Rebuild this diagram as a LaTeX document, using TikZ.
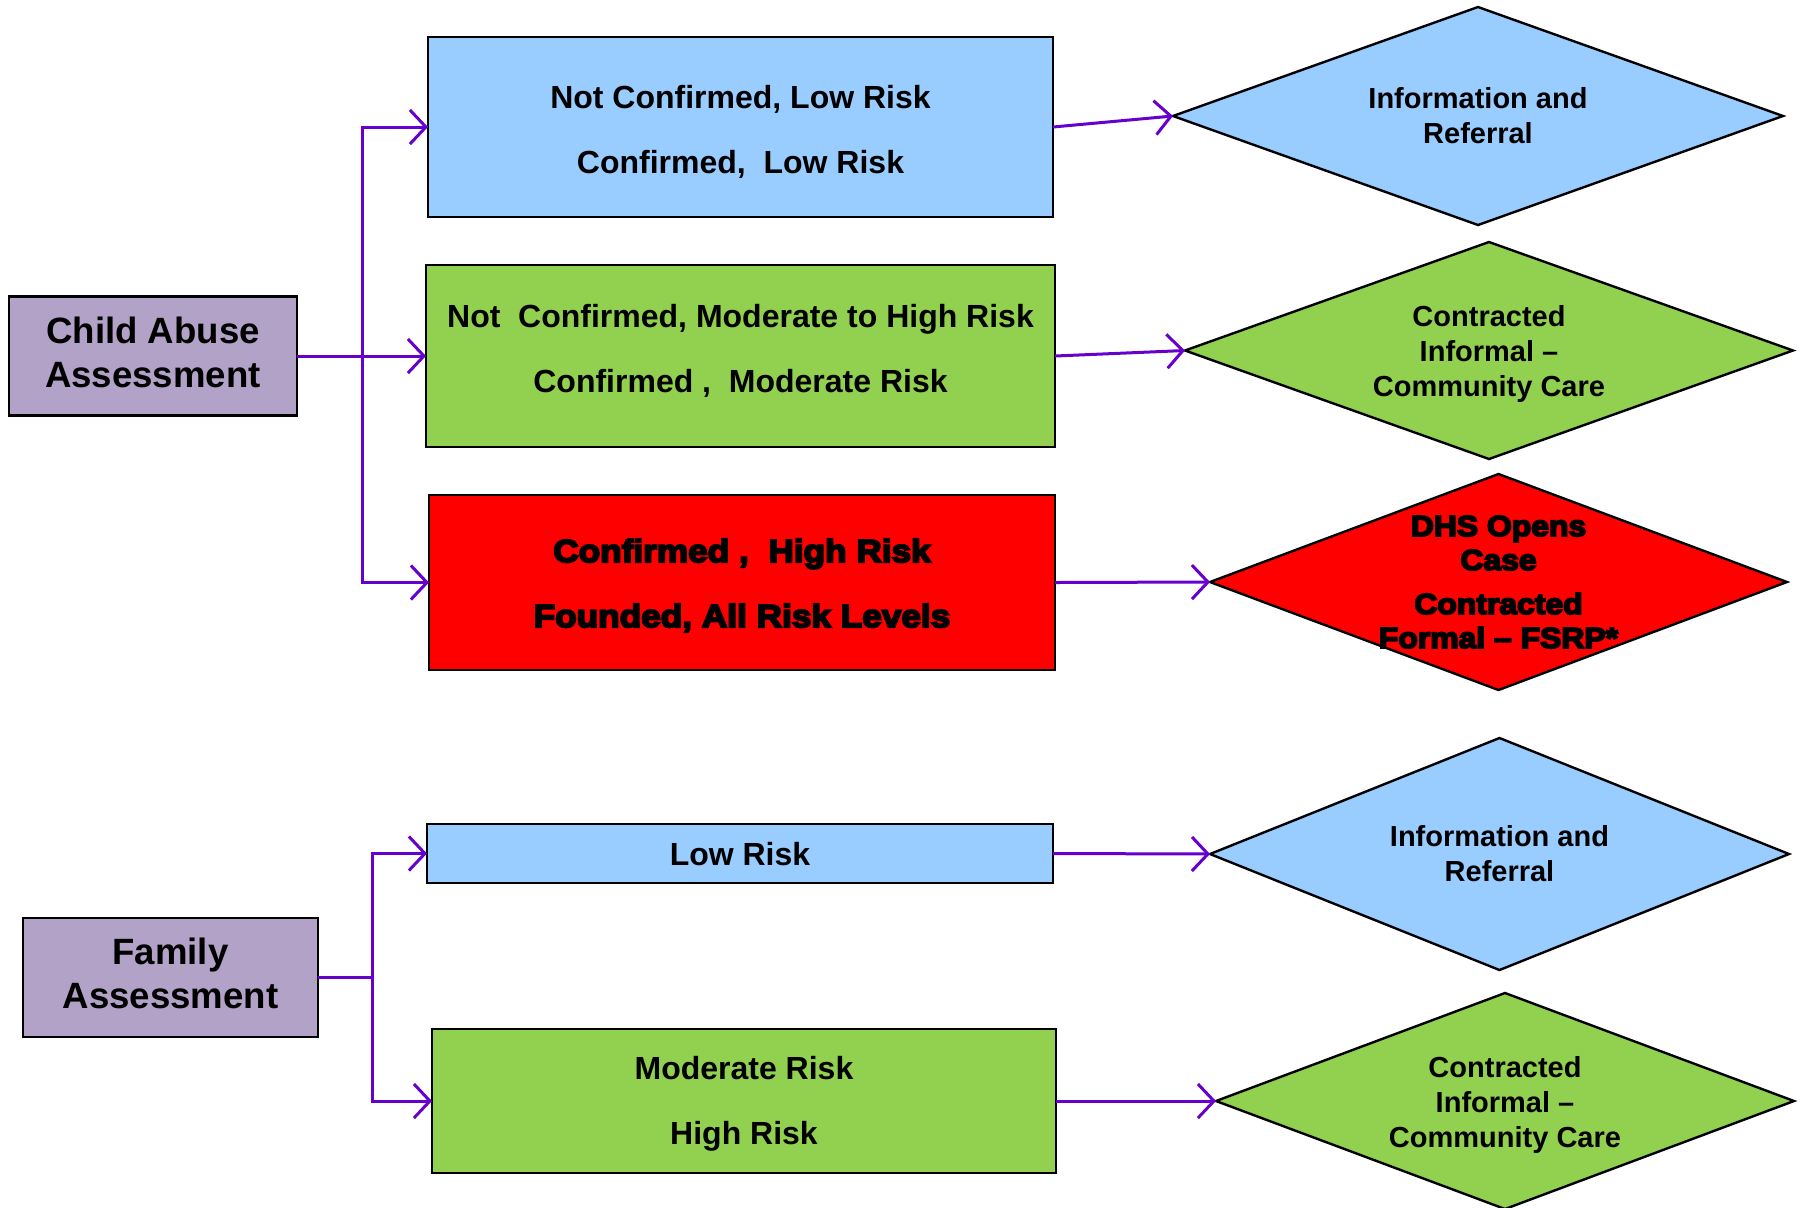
\documentclass[tikz,border=0pt]{standalone}
\usepackage{fontspec}
\setmainfont{Liberation Sans}
\newfontfamily\heavyfont[FakeBold=6,FakeStretch=1.1]{Liberation Sans Bold}
\usepackage{tikz}
\usetikzlibrary{shapes.geometric}
\usetikzlibrary{arrows.meta}

\definecolor{lowblue}{HTML}{99CCFF}
\definecolor{modgreen}{HTML}{92D050}
\definecolor{highred}{HTML}{FF0000}
\definecolor{assesslilac}{HTML}{B2A2C7}
\definecolor{flowviolet}{HTML}{6600CC}

\begin{document}
\begin{tikzpicture}[x=0.5pt,y=-0.5pt,
	outcome/.style={draw, line width=1.2pt, inner sep=0pt, outer sep=0pt},
	outtext/.style={align=center, font=\fontsize{16}{32.5}\selectfont\bfseries},
	assess/.style={outcome, fill=assesslilac},
	asstext/.style={align=center, font=\fontsize{18.3}{22}\selectfont\bfseries},
	service/.style={diamond, draw, line width=1.2pt, inner sep=0pt, outer sep=0pt},
	svctext/.style={align=center, font=\fontsize{14.5}{17.5}\selectfont\bfseries},
	flow/.style={draw=flowviolet, line width=1.5pt},
	arr/.style={flow, -{Straight Barb[length=8pt,width=17pt]}}]
				\useasboundingbox (0,0) rectangle (1800,1207);
				
				% assessments
				\node[assess, minimum width=144pt, minimum height=59.5pt,
					label={[asstext, yshift=1.75pt]center:{Child Abuse\\Assessment}}] (CA) at (153,356) {};
				\node[assess, minimum width=147.5pt, minimum height=59.5pt,
					label={[asstext, yshift=2pt]center:{Family\\Assessment}}] (FA) at (170.5,977.5) {};
				
				% findings
				\node[outcome, fill=lowblue, minimum width=312.5pt, minimum height=90pt,
					label={[outtext, yshift=-2.25pt]center:{Not Confirmed, Low Risk\\Confirmed,\ \ Low Risk}}] (NL) at (740.5,127) {};
				\node[outcome, fill=modgreen, minimum width=314.5pt, minimum height=91pt,
					label={[outtext, yshift=2.5pt]center:{Not\ \ Confirmed, Moderate to High Risk\\Confirmed ,\ \ Moderate Risk}}] (NM) at (740.5,356) {};
				\node[outcome, fill=highred, minimum width=313pt, minimum height=87.5pt,
					label={[outtext, yshift=-1.5pt, font=\fontsize{16}{32.5}\selectfont\heavyfont]center:{Confirmed ,\ \ High Risk\\Founded, All Risk Levels}}] (CH) at (742,582.5) {};
				\node[outcome, fill=lowblue, minimum width=313pt, minimum height=29.5pt,
					label={[outtext, yshift=-0.5pt]center:{Low Risk}}] (LR) at (740,853.5) {};
				\node[outcome, fill=modgreen, minimum width=312pt, minimum height=72pt,
					label={[outtext, yshift=-1.5pt]center:{Moderate Risk\\High Risk}}] (MH) at (744,1101) {};
				
				% services
				\node[service, fill=lowblue, minimum width=305pt, minimum height=109pt,
					label={[svctext]center:{Information and\\Referral}}] (IR1) at (1478,116) {};
				\node[service, fill=modgreen, minimum width=304pt, minimum height=108.5pt,
					label={[svctext, yshift=-1.75pt]center:{Contracted\\Informal –\\Community Care}}] (CC1) at (1489,350.5) {};
				\node[service, fill=highred, minimum width=288.5pt, minimum height=108pt,
					label={[svctext, font=\fontsize{14.5}{17}\selectfont\heavyfont]center:{DHS Opens\\Case\\[5pt]Contracted\\Formal – FSRP*}}] (DHS) at (1498.5,582) {};
				\node[service, fill=lowblue, minimum width=289.5pt, minimum height=116pt,
					label={[svctext]center:{Information and\\Referral}}] (IR2) at (1499.5,854) {};
				\node[service, fill=modgreen, minimum width=289pt, minimum height=108pt,
					label={[svctext, yshift=-1.75pt]center:{Contracted\\Informal –\\Community Care}}] (CC2) at (1505,1101) {};
				
				% branch points
				\coordinate (CJ) at (362,356);
				\coordinate (FJ) at (372,977.5);
				
				\draw[flow] (CA) -- (CJ);
				\draw[arr] (CJ) |- (NL.west);
				\draw[arr] (CJ) -- (NM.west);
				\draw[arr] (CJ) |- (CH.west);
				\draw[flow] (FA) -- (FJ);
				\draw[arr] (FJ) |- (LR.west);
				\draw[arr] (FJ) |- (MH.west);
				
				\draw[arr] (NL.east) -- (IR1.west);
				\draw[arr] (NM.east) -- (CC1.west);
				\draw[arr] (CH.east) -- (DHS.west);
				\draw[arr] (LR.east) -- (IR2.west);
				\draw[arr] (MH.east) -- (CC2.west);
			\end{tikzpicture}
\end{document}
